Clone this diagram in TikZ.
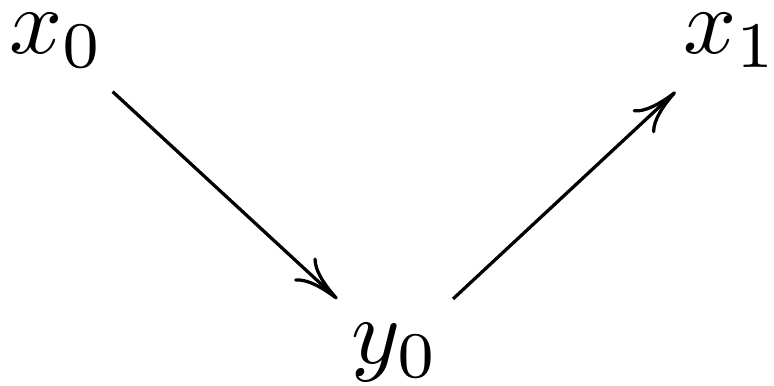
\documentclass[tikz,border=0pt]{standalone}
\usepackage{amsmath}
\usepackage{amssymb}
\usepackage{tikz}
\usetikzlibrary{arrows.meta}
\tikzset{
  obj/.style={inner sep=0pt},
  maparrow/.style={-{Computer Modern Rightarrow[length=1.7mm,width=1.2mm]},line width=0.35pt,
    shorten >=3.6pt,shorten <=3.6pt},
}

\begin{document}
\begin{tikzpicture}[x=1pt,y=1pt]
  \useasboundingbox (0,0) rectangle (83.2,-41.4);
  \node[obj] (x0) at (6.1,-4.3) {$x_0$};
  \node[obj] (x1) at (78.6,-4.3) {$x_1$};
  \node[obj] (y0) at (42.5,-37.9) {$y_0$};
  \draw[maparrow] (x0) -- (y0);
  \draw[maparrow] (y0) -- (x1);
\end{tikzpicture}
\end{document}
